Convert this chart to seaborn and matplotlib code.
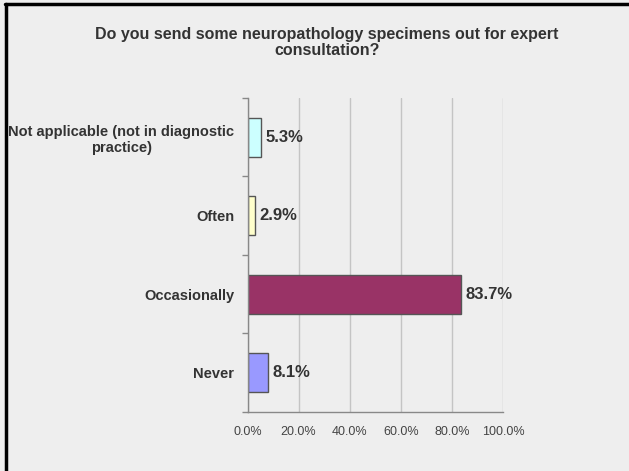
import matplotlib
matplotlib.use("Agg")
import pandas as pd
import seaborn as sns
from matplotlib import pyplot as plt
from matplotlib.lines import Line2D
from matplotlib.ticker import FuncFormatter, FixedLocator

categories = ["Not applicable (not in diagnostic\npractice)", "Often", "Occasionally", "Never"]
percents = [5.3, 2.9, 83.7, 8.1]
bar_colors = ["#CCFFFF", "#FFFFCC", "#993366", "#9999FF"]
x_ticks = [0, 20, 40, 60, 80, 100]
title = "Do you send some neuropathology specimens out for expert\nconsultation?"

sns.set_theme(style="white")
plt.rcParams["font.family"] = ["Liberation Sans", "DejaVu Sans"]

df = pd.DataFrame({"answer": categories, "pct": percents})

bg = "#EEEEEE"
fig = plt.figure(figsize=(6.29, 4.71), dpi=100, facecolor=bg)
ax = fig.add_axes([0.3935, 0.1253, 0.4062, 0.6667])
ax.set_facecolor(bg)

sns.barplot(data=df, x="pct", y="answer", hue="answer", palette=bar_colors,
            order=categories, width=0.5, edgecolor="#555555", linewidth=1.0,
            saturation=1, legend=False, ax=ax)

for cont, v in zip(ax.containers, percents):
    ax.bar_label(cont, labels=[f"{v:.1f}%"], padding=3, fontsize=12,
                 fontweight="bold", color="#333333")

ax.set_xlim(0, 100)
ax.set_ylim(3.5, -0.5)
ax.xaxis.set_major_locator(FixedLocator(x_ticks))
ax.xaxis.set_major_formatter(FuncFormatter(lambda v, p: f"{v:.1f}%"))
ax.grid(axis="x", color="#C4C4C4", linewidth=1.0)
ax.set_axisbelow(True)
ax.set_xlabel("")
ax.set_ylabel("")

for s in ["top", "right"]:
    ax.spines[s].set_visible(False)
for s in ["left", "bottom"]:
    ax.spines[s].set_color("#888888")
    ax.spines[s].set_linewidth(1.0)

ax.tick_params(axis="x", length=4, color="#888888", labelsize=9,
               labelcolor="#444444", pad=6, direction="out")
ax.tick_params(axis="y", which="major", length=0, pad=9.5, labelsize=10.5,
               labelcolor="#333333")
ax.yaxis.set_minor_locator(FixedLocator([-0.5, 0.5, 1.5, 2.5, 3.5]))
ax.tick_params(axis="y", which="minor", length=4, color="#888888", direction="out",
               left=True)
for lbl in ax.get_yticklabels():
    lbl.set_fontweight("bold")
    lbl.set_multialignment("center")

fig.text(0.52, 0.909, title, ha="center", va="center", fontsize=11.5,
         fontweight="bold", color="#333333", linespacing=1.1)

# frame lines around the slide
fig.add_artist(Line2D([0.0095, 0.0095], [0, 0.992], color="black", linewidth=2.5))
fig.add_artist(Line2D([0.0085, 1.0], [0.991, 0.991], color="black", linewidth=2.5))

fig.savefig("out.png", dpi=100, facecolor=bg)
